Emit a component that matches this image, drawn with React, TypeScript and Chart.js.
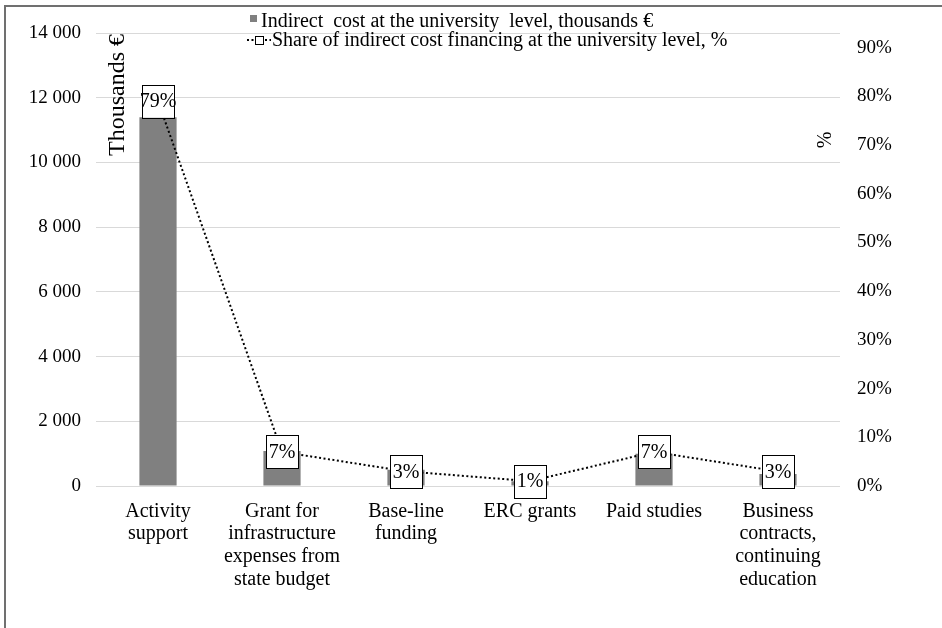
import React, { useEffect, useRef } from "react";
import { Chart, registerables } from "chart.js";

Chart.register(...registerables);

const categories: string[][] = [
  ["Activity", "support"],
  ["Grant for", "infrastructure", "expenses from", "state budget"],
  ["Base-line", "funding"],
  ["ERC grants"],
  ["Paid studies"],
  ["Business", "contracts,", "continuing", "education"],
];
const indirectCost: number[] = [11400, 1080, 500, 150, 1000, 370];
const financingShare: number[] = [0.79, 0.07, 0.03, 0.01, 0.07, 0.03];
const leftTicksMax = 14000;
const leftStep = 2000;
const rightMax = 0.93;
const rightTickValues: number[] = [0, 0.1, 0.2, 0.3, 0.4, 0.5, 0.6, 0.7, 0.8, 0.9];

const barLabel = "Indirect  cost at the university  level, thousands \u20ac";
const lineLabel = "Share of indirect cost financing at the university level, %";
const leftTitle = "Thousands \u20ac";
const rightTitle = "%";

const FONT = "'Liberation Serif', 'Times New Roman', serif";
const FS = 19;
const XFS = 20;
const LBL_FS = 20;
const LEG_FS = 20;
const TITLE_FS = 24;

const overlayPlugin = {
  id: "overlay",
  afterDatasetsDraw(chart: any) {
    const ctx = chart.ctx as CanvasRenderingContext2D;
    const meta = chart.getDatasetMeta(0);
    ctx.save();
    ctx.font = `${LBL_FS}px ${FONT}`;
    ctx.textAlign = "center";
    ctx.textBaseline = "middle";
    meta.data.forEach((pt: any, i: number) => {
      const w = 32, h = 33;
      ctx.fillStyle = "#ffffff";
      ctx.fillRect(pt.x - w / 2, pt.y - h / 2, w, h);
      ctx.strokeStyle = "#000000";
      ctx.lineWidth = 1;
      ctx.strokeRect(Math.round(pt.x - w / 2) + 0.5, Math.round(pt.y - h / 2) + 0.5, w, h);
      ctx.fillStyle = "#000000";
      ctx.fillText(Math.round(financingShare[i] * 100) + "%", pt.x, pt.y + 1);
    });
    ctx.restore();
  },
  afterDraw(chart: any) {
    const ctx = chart.ctx as CanvasRenderingContext2D;
    const area = chart.chartArea;
    ctx.save();
    ctx.font = `${LEG_FS}px ${FONT}`;
    // legend
    ctx.fillStyle = "#808080";
    ctx.fillRect(250, 15, 7, 7);
    ctx.fillStyle = "#000000";
    ctx.textAlign = "left";
    ctx.textBaseline = "alphabetic";
    ctx.fillText(barLabel, 261, 27);
    ctx.strokeStyle = "#000000";
    ctx.lineWidth = 2;
    ctx.setLineDash([2, 2.5]);
    ctx.beginPath();
    ctx.moveTo(247, 40);
    ctx.lineTo(271, 40);
    ctx.stroke();
    ctx.setLineDash([]);
    ctx.fillStyle = "#ffffff";
    ctx.fillRect(255, 36, 8, 8);
    ctx.lineWidth = 1;
    ctx.strokeRect(255.5, 36.5, 8, 8);
    ctx.fillStyle = "#000000";
    ctx.fillText(lineLabel, 272, 46);
    // axis titles
    ctx.font = `${TITLE_FS}px ${FONT}`;
    ctx.save();
    ctx.translate(area.left + 22, area.top + 1);
    ctx.rotate(-Math.PI / 2);
    ctx.textAlign = "right";
    ctx.textBaseline = "middle";
    ctx.fillText(leftTitle, 0, 0);
    ctx.restore();
    ctx.font = `${LEG_FS}px ${FONT}`;
    ctx.save();
    ctx.translate(826, 140);
    ctx.rotate(-Math.PI / 2);
    ctx.textAlign = "center";
    ctx.textBaseline = "middle";
    ctx.fillText(rightTitle, 0, 0);
    ctx.restore();
    ctx.restore();
  },
};

export default function App() {
  const ref = useRef<HTMLCanvasElement | null>(null);
  useEffect(() => {
    if (!ref.current) return;
    const chart = new Chart(ref.current, {
      type: "bar",
      data: {
        labels: categories,
        datasets: [
          {
            type: "line",
            label: lineLabel,
            data: financingShare,
            yAxisID: "y1",
            borderColor: "#000000",
            borderWidth: 2,
            borderDash: [2, 2.5],
            pointRadius: 0,
            fill: false,
            tension: 0,
          } as any,
          {
            type: "bar",
            label: barLabel,
            data: indirectCost,
            yAxisID: "y",
            backgroundColor: "#808080",
            barPercentage: 0.3,
            categoryPercentage: 1,
          },
        ],
      },
      options: {
        responsive: true,
        maintainAspectRatio: false,
        animation: false,
        layout: { padding: { top: 33, left: 0, right: 0, bottom: 0 } },
        plugins: {
          legend: { display: false },
          tooltip: { enabled: false },
          title: { display: false },
        },
        scales: {
          x: {
            offset: true,
            grid: { display: false },
            border: { display: false },
            ticks: {
              color: "#000000",
              font: { family: FONT, size: XFS, lineHeight: 1.14 },
              padding: 6,
              maxRotation: 0,
              minRotation: 0,
              autoSkip: false,
            },
            afterFit: (s: any) => {
              s.height = 142;
            },
          },
          y: {
            position: "left",
            min: 0,
            max: leftTicksMax,
            grid: { color: "#d9d9d9", lineWidth: 1, drawTicks: false },
            border: { display: false },
            ticks: {
              stepSize: leftStep,
              color: "#000000",
              padding: 15,
              font: { family: FONT, size: FS },
              callback: (v: any) => {
                const n = Math.round(Number(v));
                return n.toString().replace(/\B(?=(\d{3})+(?!\d))/g, " ");
              },
            },
            afterFit: (s: any) => {
              s.width = 96;
            },
          },
          y1: {
            position: "right",
            min: 0,
            max: rightMax,
            grid: { display: false, drawTicks: false },
            border: { display: false },
            ticks: {
              color: "#000000",
              padding: 17,
              font: { family: FONT, size: FS },
              callback: (v: any) => Math.round(Number(v) * 100) + "%",
            },
            afterBuildTicks: (s: any) => {
              s.ticks = rightTickValues.map((v) => ({ value: v }));
            },
            afterFit: (s: any) => {
              s.width = 102;
            },
          },
        },
      },
      plugins: [overlayPlugin],
    });
    return () => chart.destroy();
  }, []);

  return (
    <div
      style={{
        position: "fixed",
        left: 0,
        top: 0,
        width: 942,
        height: 628,
        background: "#ffffff",
        overflow: "hidden",
      }}
    >
      <div
        style={{
          position: "absolute",
          left: 4,
          top: 5,
          width: 960,
          height: 660,
          borderLeft: "2px solid #707070",
          borderTop: "2px solid #707070",
        }}
      />
      <canvas ref={ref} style={{ position: "absolute", left: 0, top: 0, width: 942, height: 628 }} />
    </div>
  );
}
